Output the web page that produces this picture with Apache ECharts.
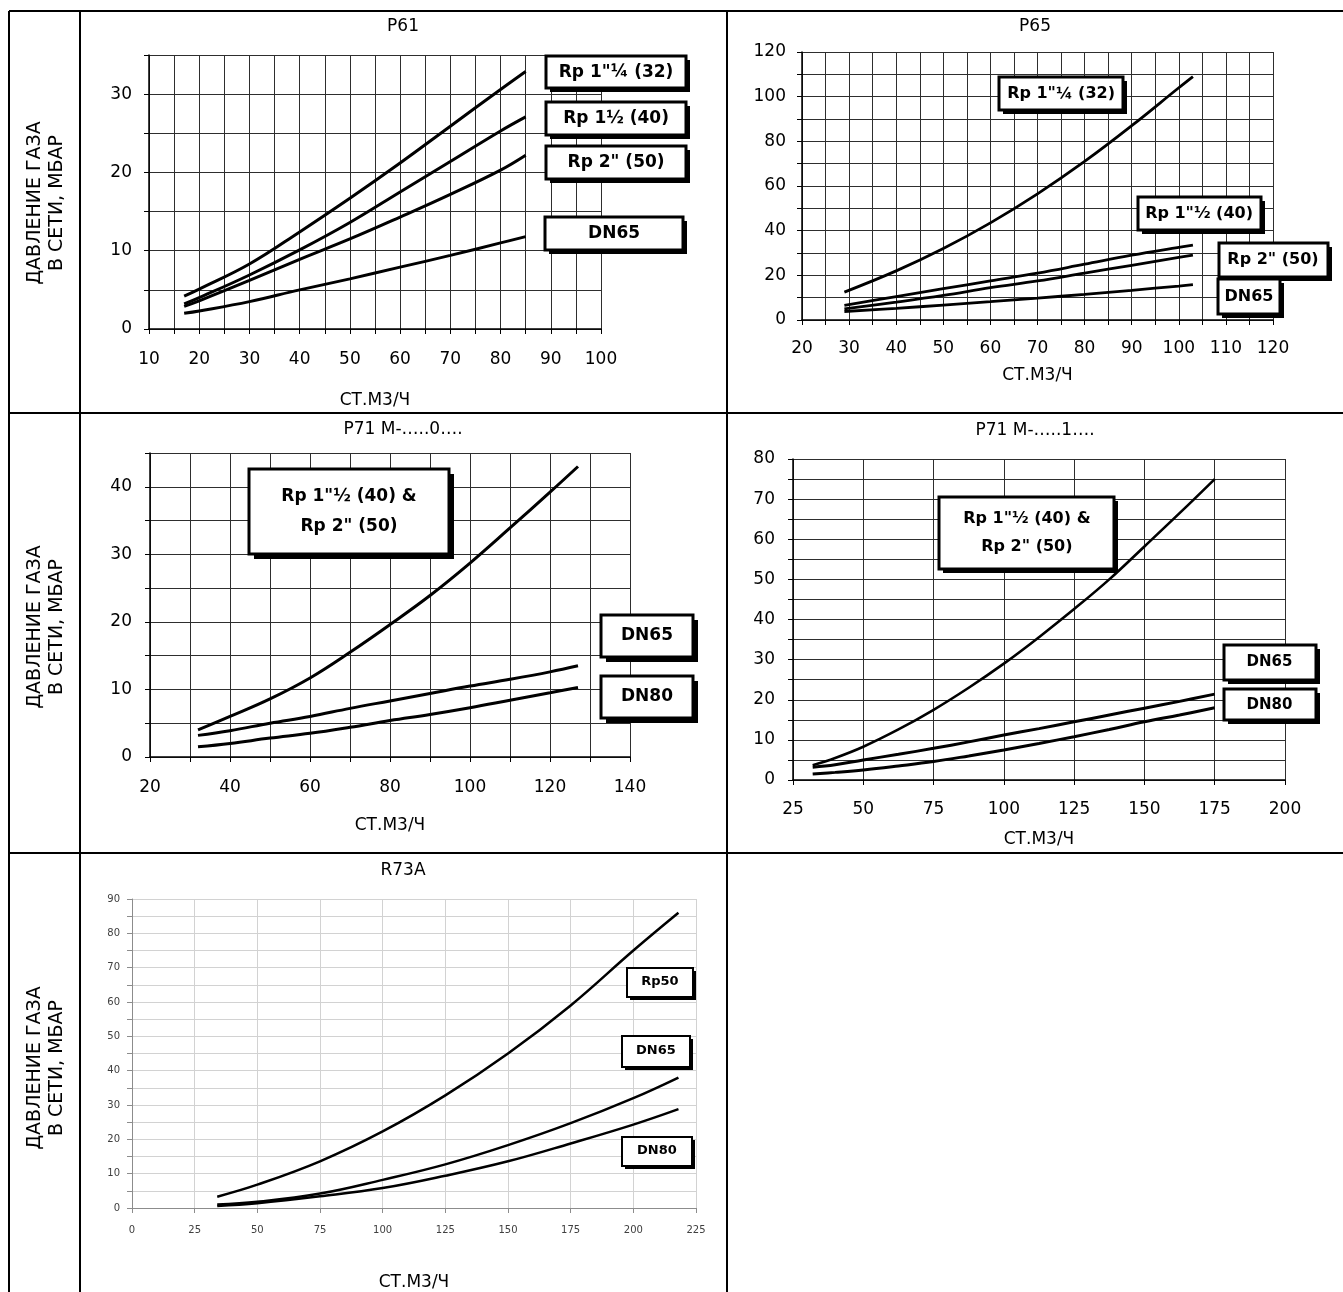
<!DOCTYPE html>
<html>
<head>
<meta charset="utf-8">
<title>Давление газа в сети</title>
<script src="https://cdn.jsdelivr.net/npm/echarts@6/dist/echarts.min.js"></script>
<style>
	html, body { margin: 0; padding: 0; background: #fff; }
	#chart { width: 1343px; height: 1292px; }
</style>
</head>
<body>
<div id="chart"></div>
<script type="text/javascript">
	// ---- data (flow st.m3/h -> pressure mbar) ----
	var p61Flow = [17, 20, 30, 40, 50, 60, 70, 80, 85];
	var p61Rp32 = [4.2, 5.1, 8.3, 12.4, 16.7, 21.2, 25.9, 30.6, 32.9];
	var p61Rp40 = [3.2, 4.0, 6.9, 10.1, 13.6, 17.5, 21.4, 25.3, 27.1];
	var p61Rp50 = [2.9, 3.6, 6.2, 8.9, 11.5, 14.3, 17.2, 20.3, 22.2];
	var p61Dn65 = [2.0, 2.3, 3.5, 5.0, 6.4, 7.9, 9.4, 11.0, 11.8];

	var p65Flow = [29, 40, 50, 60, 70, 80, 90, 100, 103];
	var p65Rp32 = [12.5, 22.0, 32.0, 43.5, 56.5, 71.0, 87.0, 104.0, 109.0];
	var p65Rp40 = [6.5, 10.5, 14.0, 17.5, 21.0, 25.0, 29.0, 32.5, 33.5];
	var p65Rp50 = [5.0, 8.0, 11.0, 14.5, 17.5, 21.0, 24.5, 28.0, 29.0];
	var p65Dn65 = [3.8, 5.2, 6.7, 8.2, 9.8, 11.5, 13.3, 15.2, 15.8];

	var p710Flow = [32, 40, 50, 60, 70, 80, 90, 100, 110, 120, 127];
	var p710Rp = [4.0, 6.0, 8.6, 11.7, 15.5, 19.6, 23.9, 28.7, 33.9, 39.2, 43.0];
	var p710Dn65 = [3.2, 3.9, 5.0, 6.0, 7.2, 8.3, 9.4, 10.5, 11.5, 12.6, 13.5];
	var p710Dn80 = [1.5, 2.0, 2.8, 3.5, 4.4, 5.4, 6.3, 7.3, 8.4, 9.5, 10.3];

	var p711Flow = [32, 40, 50, 62.5, 75, 87.5, 100, 112.5, 125, 137.5, 150, 162.5, 175];
	var p711Rp = [3.7, 5.5, 8.3, 12.6, 17.5, 23.0, 29.0, 35.6, 42.6, 50.0, 58.2, 66.5, 75.0];
	var p711Dn65 = [3.2, 3.8, 5.0, 6.4, 7.9, 9.5, 11.2, 12.8, 14.5, 16.2, 17.9, 19.6, 21.4];
	var p711Dn80 = [1.5, 1.9, 2.5, 3.5, 4.6, 6.0, 7.5, 9.1, 10.8, 12.6, 14.5, 16.2, 18.0];

	var r73Flow = [34, 50, 75, 100, 125, 150, 175, 200, 218];
	var r73Rp50 = [3.3, 6.8, 13.6, 22.3, 32.8, 45.0, 59.0, 75.0, 86.0];
	var r73Dn65 = [1.0, 1.8, 4.2, 8.2, 12.7, 18.3, 24.7, 32.0, 38.0];
	var r73Dn80 = [0.6, 1.4, 3.4, 5.8, 9.4, 13.6, 18.8, 24.3, 28.8];

	var FONT = '"DejaVu Sans", sans-serif';
	var AXIS_NAME = 'СТ.М3/Ч';
	var Y_NAME = 'ДАВЛЕНИЕ ГАЗА\nВ СЕТИ, МБАР';

	// panels of the table: grid box, axis ranges, label step
	var panels = [
		{ title: 'P61', cx: 403, ty: 27, grid: { left: 149, top: 55, width: 452, height: 274 },
		  x: { min: 10, max: 100, step: 5, label: 10, margin: 22 }, y: { min: 0, max: 35, step: 5, label: 10, margin: 17 }, nameGap: 63 },
		{ title: 'P65', cx: 1035, ty: 27, grid: { left: 802, top: 52, width: 471, height: 268 },
		  x: { min: 20, max: 120, step: 5, label: 10, margin: 20 }, y: { min: 0, max: 120, step: 10, label: 20, margin: 16 }, nameGap: 47 },
		{ title: 'P71 M-…..0….', cx: 403, ty: 430, grid: { left: 150, top: 453, width: 480, height: 304 },
		  x: { min: 20, max: 140, step: 10, label: 20, margin: 22 }, y: { min: 0, max: 45, step: 5, label: 10, margin: 18 }, nameGap: 60 },
		{ title: 'P71 M-…..1….', cx: 1035, ty: 431, grid: { left: 793, top: 459, width: 492, height: 321 },
		  x: { min: 25, max: 200, step: 25, label: 25, margin: 21 }, y: { min: 0, max: 80, step: 5, label: 10, margin: 18 }, nameGap: 51 },
		{ title: 'R73A', cx: 403, ty: 871, grid: { left: 132, top: 899, width: 564, height: 309 },
		  x: { min: 0, max: 225, step: 25, label: 25, margin: 17 }, y: { min: 0, max: 90, step: 5, label: 10, margin: 12 }, nameGap: 66, light: true }
	];

	var curves = [
		{ grid: 0, flow: p61Flow, values: p61Rp32, width: 3 },
		{ grid: 0, flow: p61Flow, values: p61Rp40, width: 3 },
		{ grid: 0, flow: p61Flow, values: p61Rp50, width: 3 },
		{ grid: 0, flow: p61Flow, values: p61Dn65, width: 3 },
		{ grid: 1, flow: p65Flow, values: p65Rp32, width: 2.8 },
		{ grid: 1, flow: p65Flow, values: p65Rp40, width: 2.8 },
		{ grid: 1, flow: p65Flow, values: p65Rp50, width: 2.8 },
		{ grid: 1, flow: p65Flow, values: p65Dn65, width: 2.8 },
		{ grid: 2, flow: p710Flow, values: p710Rp, width: 3 },
		{ grid: 2, flow: p710Flow, values: p710Dn65, width: 3 },
		{ grid: 2, flow: p710Flow, values: p710Dn80, width: 3 },
		{ grid: 3, flow: p711Flow, values: p711Rp, width: 2.6 },
		{ grid: 3, flow: p711Flow, values: p711Dn65, width: 3 },
		{ grid: 3, flow: p711Flow, values: p711Dn80, width: 3 },
		{ grid: 4, flow: r73Flow, values: r73Rp50, width: 2.5 },
		{ grid: 4, flow: r73Flow, values: r73Dn65, width: 2.5 },
		{ grid: 4, flow: r73Flow, values: r73Dn80, width: 2.5 }
	];

	// boxed captions, anchored in data coordinates of their panel
	var boxes = [
		{ grid: 0, at: [103, 32.8], text: 'Rp 1"¼ (32)', w: 140, h: 32, font: 17, border: 3, shadow: 4 },
		{ grid: 0, at: [103, 26.9], text: 'Rp 1½ (40)', w: 140, h: 33, font: 17, border: 3, shadow: 4 },
		{ grid: 0, at: [103, 21.3], text: 'Rp 2" (50)', w: 140, h: 33, font: 17, border: 3, shadow: 4 },
		{ grid: 0, at: [102.6, 12.2], text: 'DN65', w: 138, h: 33, font: 17, border: 3, shadow: 4 },
		{ grid: 1, at: [75, 101.2], text: 'Rp 1"¼ (32)', w: 124, h: 33, font: 16, border: 3, shadow: 4 },
		{ grid: 1, at: [104.3, 47.5], text: 'Rp 1"½ (40)', w: 123, h: 33, font: 16, border: 3, shadow: 4 },
		{ grid: 1, at: [120, 26.9], text: 'Rp 2" (50)', w: 109, h: 34, font: 16, border: 3, shadow: 4 },
		{ grid: 1, at: [114.9, 10.3], text: 'DN65', w: 62, h: 35, font: 16, border: 3, shadow: 4 },
		{ grid: 2, at: [69.75, 36.3], text: 'Rp 1"½ (40) &\nRp 2" (50)', w: 200, h: 85, font: 17, border: 3, shadow: 5 },
		{ grid: 2, at: [144.25, 17.9], text: 'DN65', w: 92, h: 42, font: 17, border: 3, shadow: 5 },
		{ grid: 2, at: [144.25, 8.9], text: 'DN80', w: 92, h: 42, font: 17, border: 3, shadow: 5 },
		{ grid: 3, at: [108.2, 61.6], text: 'Rp 1"½ (40) &\nRp 2" (50)', w: 175, h: 72, font: 16, border: 3, shadow: 4 },
		{ grid: 3, at: [194.5, 29.4], text: 'DN65', w: 92, h: 35, font: 15, border: 3, shadow: 4 },
		{ grid: 3, at: [194.5, 18.7], text: 'DN80', w: 92, h: 31, font: 15, border: 3, shadow: 4 },
		{ grid: 4, at: [210.6, 65.8], text: 'Rp50', w: 66, h: 29, font: 13, border: 2, shadow: 3 },
		{ grid: 4, at: [209.0, 45.7], text: 'DN65', w: 68, h: 31, font: 13, border: 2, shadow: 3 },
		{ grid: 4, at: [209.4, 16.6], text: 'DN80', w: 70, h: 29, font: 13, border: 2, shadow: 3 }
	];

	function pairs(xs, ys) {
		return xs.map(function (x, i) { return [x, ys[i]]; });
	}

	function makeAxis(gi, a, p, isX) {
		var light = !!p.light;
		var ax = {
			type: 'value', gridIndex: gi,
			min: a.min, max: a.max, interval: a.step,
			axisLine: { show: true, onZero: false, lineStyle: { color: light ? '#8c8c8c' : '#000', width: light ? 1 : 1.5 } },
			axisTick: { show: true, length: 5, lineStyle: { color: light ? '#8c8c8c' : '#000' } },
			axisLabel: {
				margin: a.margin, color: light ? '#404040' : '#000',
				fontSize: light ? 10 : 17, fontFamily: FONT,
				formatter: function (v) { return Math.round(v) % a.label === 0 ? String(v) : ''; }
			},
			splitLine: { show: true, lineStyle: { color: light ? '#d2d2d2' : '#2e2e2e', width: 1 } }
		};
		if (isX) {
			ax.name = AXIS_NAME;
			ax.nameLocation = 'middle';
			ax.nameGap = p.nameGap;
			ax.nameMoveOverlap = false;
			ax.nameTextStyle = { fontSize: 17, fontFamily: FONT, color: '#000' };
		}
		return ax;
	}

	var chart = echarts.init(document.getElementById('chart'));

	var option = {
		animation: false,
		backgroundColor: '#fff',
		grid: panels.map(function (p) {
			return { left: p.grid.left, top: p.grid.top, width: p.grid.width, height: p.grid.height, containLabel: false, outerBoundsMode: 'none' };
		}),
		xAxis: panels.map(function (p, i) { return makeAxis(i, p.x, p, true); }),
		yAxis: panels.map(function (p, i) { return makeAxis(i, p.y, p, false); }),
		series: curves.map(function (c) {
			return {
				type: 'line', xAxisIndex: c.grid, yAxisIndex: c.grid,
				data: pairs(c.flow, c.values),
				smooth: 0.4, symbol: 'none', silent: true, clip: false,
				lineStyle: { color: '#000', width: c.width }
			};
		})
	};
	chart.setOption(option);

	// table frame, cell titles, row captions and boxed labels
	var graphic = [];
	function line(x1, y1, x2, y2) {
		graphic.push({ type: 'line', silent: true, z: 50, shape: { x1: x1, y1: y1, x2: x2, y2: y2 }, style: { stroke: '#000', lineWidth: 2 } });
	}
	line(9, 11, 1343, 11);
	line(9, 413, 1343, 413);
	line(9, 853, 1343, 853);
	line(9, 11, 9, 1292);
	line(80, 11, 80, 1292);
	line(727, 11, 727, 1292);

	[203, 627, 1068].forEach(function (cy) {
		graphic.push({
			type: 'text', silent: true, x: 46, y: cy, rotation: Math.PI / 2,
			style: { text: Y_NAME, font: '19px ' + FONT, fill: '#000', align: 'center', verticalAlign: 'middle', lineHeight: 22 }
		});
	});

	panels.forEach(function (p) {
		graphic.push({
			type: 'text', silent: true, x: p.cx, y: p.ty,
			style: { text: p.title, font: '17px ' + FONT, fill: '#000', align: 'center', verticalAlign: 'middle' }
		});
	});

	boxes.forEach(function (b) {
		var pt = chart.convertToPixel({ gridIndex: b.grid }, b.at);
		var x0 = Math.round(pt[0] - b.w / 2), y0 = Math.round(pt[1] - b.h / 2);
		graphic.push({ type: 'rect', silent: true, z: 100, shape: { x: x0 + b.shadow, y: y0 + b.shadow, width: b.w, height: b.h }, style: { fill: '#000' } });
		graphic.push({ type: 'rect', silent: true, z: 101, shape: { x: x0, y: y0, width: b.w, height: b.h }, style: { fill: '#fff', stroke: '#000', lineWidth: b.border } });
		graphic.push({
			type: 'text', silent: true, z: 102, x: pt[0], y: pt[1],
			style: { text: b.text, font: 'bold ' + b.font + 'px ' + FONT, fill: '#000', align: 'center', verticalAlign: 'middle', lineHeight: Math.round(b.font * 1.75) }
		});
	});

	chart.setOption({ graphic: graphic });
</script>
</body>
</html>
